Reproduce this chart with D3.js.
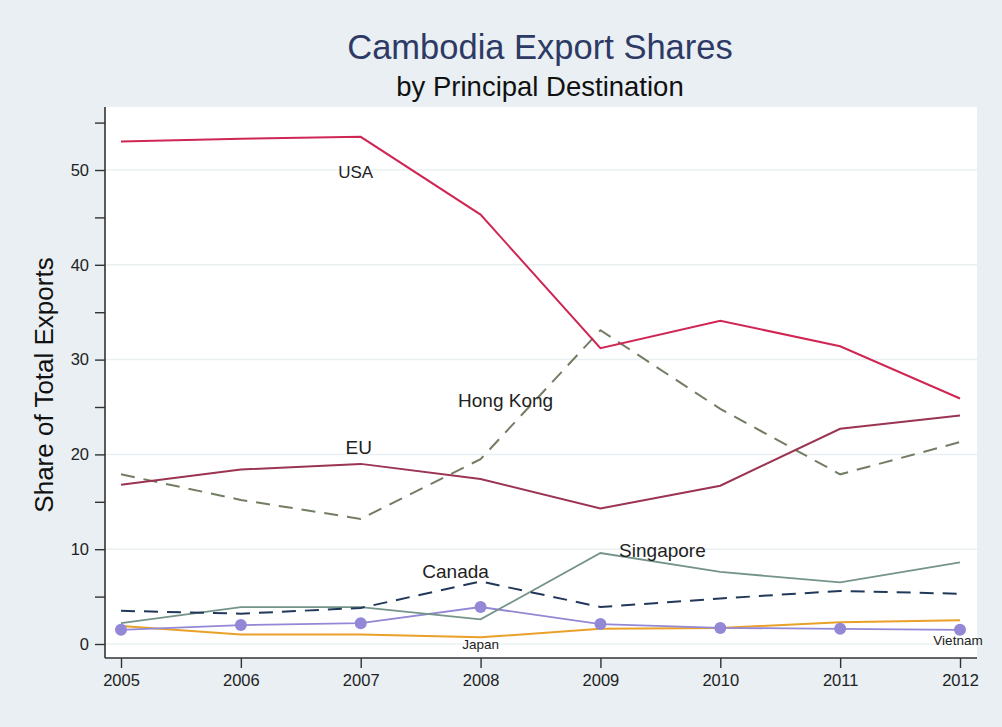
<!DOCTYPE html>
<html>
<head>
<meta charset="utf-8">
<script src="https://cdn.jsdelivr.net/npm/d3@7"></script>
<style>
  html, body { margin: 0; padding: 0; background: #e9eff2; }
  svg { display: block; font-family: "Liberation Sans", Arial, sans-serif; }
</style>
</head>
<body>
<svg id="chart" width="1002" height="727"></svg>
<script>
const years = [2005, 2006, 2007, 2008, 2009, 2010, 2011, 2012];
const usa       = [53.0, 53.3, 53.5, 45.3, 31.2, 34.1, 31.4, 25.9];
const eu        = [16.8, 18.4, 19.0, 17.4, 14.3, 16.7, 22.7, 24.1];
const hongKong  = [17.9, 15.2, 13.2, 19.5, 33.1, 24.8, 17.9, 21.3];
const singapore = [2.2, 3.9, 3.9, 2.6, 9.6, 7.6, 6.5, 8.6];
const canada    = [3.5, 3.2, 3.8, 6.6, 3.9, 4.8, 5.6, 5.3];
const japan     = [1.9, 1.0, 1.0, 0.7, 1.6, 1.7, 2.3, 2.5];
const vietnam   = [1.5, 2.0, 2.2, 3.9, 2.1, 1.7, 1.6, 1.5];
const yTicks = [0, 10, 20, 30, 40, 50];
const yMinorTicks = [5, 15, 25, 35, 45, 55];

const svg = d3.select("#chart");
const plot = { left: 105, right: 977, top: 107, bottom: 658 };

const x = d3.scaleLinear().domain([2005, 2012]).range([121, 960]);
const y = d3.scaleLinear().domain([0, 50]).range([644, 170]);

// plot region background
svg.append("rect")
  .attr("x", plot.left).attr("y", plot.top)
  .attr("width", plot.right - plot.left).attr("height", plot.bottom - plot.top)
  .attr("fill", "#ffffff");

// gridlines
svg.append("g").selectAll("line").data(yTicks).join("line")
  .attr("x1", plot.left).attr("x2", plot.right)
  .attr("y1", d => y(d)).attr("y2", d => y(d))
  .attr("stroke", "#eaf0f2").attr("stroke-width", 1.5);

// axes
const yAxis = d3.axisLeft(y).tickValues(yTicks).tickSize(10).tickPadding(6).tickFormat(d3.format("d"));
const gy = svg.append("g").attr("transform", `translate(${plot.left},0)`).call(yAxis);
gy.select(".domain").attr("d", `M0,${plot.top}V${plot.bottom}`);
const gyMinor = svg.append("g").attr("transform", `translate(${plot.left},0)`)
  .call(d3.axisLeft(y).tickValues(yMinorTicks).tickSize(10).tickFormat(""));
gyMinor.select(".domain").remove();

const xAxis = d3.axisBottom(x).tickValues(years).tickSize(10).tickPadding(6).tickFormat(d3.format("d"));
const gx = svg.append("g").attr("transform", `translate(0,${plot.bottom})`).call(xAxis);
gx.select(".domain").attr("d", `M${plot.left},0H${plot.right}`);

[gy, gyMinor, gx].forEach(g => {
  g.selectAll(".domain").attr("stroke", "#333").attr("stroke-width", 1.6);
  g.selectAll(".tick line").attr("stroke", "#333").attr("stroke-width", 1.4);
  g.selectAll(".tick text").attr("fill", "#222").attr("font-size", 16.5)
    .attr("font-family", "Liberation Sans, Arial, sans-serif");
});

// series
const series = [
  { name: "Japan",     values: japan,     color: "#e9a12a", dash: null,   width: 2 },
  { name: "Vietnam",   values: vietnam,   color: "#9288d6", dash: null,   width: 1.8, marker: true },
  { name: "Singapore", values: singapore, color: "#74948a", dash: null,   width: 1.8 },
  { name: "Canada",    values: canada,    color: "#22385a", dash: "14,9", width: 2 },
  { name: "Hong Kong", values: hongKong,  color: "#737d63", dash: "14,9", width: 2 },
  { name: "EU",        values: eu,        color: "#9b3452", dash: null,   width: 2 },
  { name: "USA",       values: usa,       color: "#cf2654", dash: null,   width: 2 }
];

const line = d3.line().x((d, i) => x(years[i])).y(d => y(d));
const gLines = svg.append("g");
series.forEach(s => {
  gLines.append("path")
    .datum(s.values)
    .attr("d", line)
    .attr("fill", "none")
    .attr("stroke", s.color)
    .attr("stroke-width", s.width)
    .attr("stroke-dasharray", s.dash)
    .attr("stroke-linejoin", "miter");
  if (s.marker) {
    gLines.append("g").selectAll("circle").data(s.values).join("circle")
      .attr("cx", (d, i) => x(years[i])).attr("cy", d => y(d))
      .attr("r", 6).attr("fill", s.color);
  }
});

// labels (anchored to data coordinates)
const labelNames  = ["USA", "EU", "Hong Kong", "Canada", "Singapore", "Japan", "Vietnam"];
const labelYears  = [2007, 2007, 2008, 2008, 2009, 2008, 2012];
const labelValues = [49.7, 20.7, 25.7, 7.7, 9.9, -0.1, 0.4];
const labelSizes  = [17, 19, 19, 19, 19, 13.5, 13.5];
const labelDx     = [-5, -2, 25, -25, 62, 0, -2];
svg.append("g").selectAll("text").data(labelNames).join("text")
  .attr("x", (d, i) => x(labelYears[i]) + labelDx[i])
  .attr("y", (d, i) => y(labelValues[i]))
  .attr("text-anchor", "middle")
  .attr("dominant-baseline", "central")
  .attr("font-size", (d, i) => labelSizes[i])
  .attr("fill", "#222")
  .text(d => d);

// titles
svg.append("text").attr("x", 540).attr("y", 47)
  .attr("text-anchor", "middle").attr("dominant-baseline", "central")
  .attr("font-size", 34.5).attr("fill", "#2e3a66")
  .text("Cambodia Export Shares");
svg.append("text").attr("x", 540).attr("y", 86)
  .attr("text-anchor", "middle").attr("dominant-baseline", "central")
  .attr("font-size", 27.5).attr("fill", "#111")
  .text("by Principal Destination");
svg.append("text")
  .attr("transform", `translate(44,385) rotate(-90)`)
  .attr("text-anchor", "middle").attr("dominant-baseline", "central")
  .attr("font-size", 26).attr("fill", "#111")
  .text("Share of Total Exports");
</script>
</body>
</html>
